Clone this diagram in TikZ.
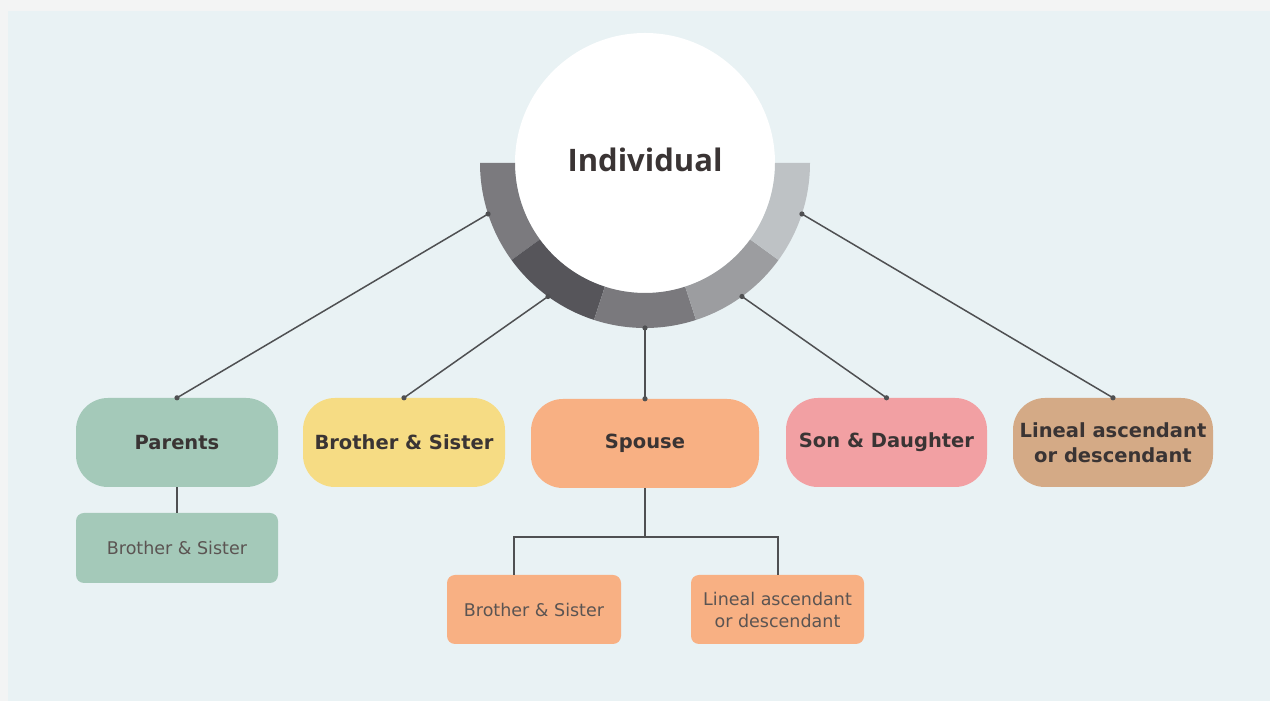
\documentclass[tikz,border=0pt]{standalone}
\usepackage{fontspec}
\setmainfont{DejaVu Sans}
\newfontfamily\indfont{Open Sans}
\usetikzlibrary{calc}
\definecolor{bgout}{HTML}{F3F4F4}
\definecolor{panel}{HTML}{E9F2F4}
\definecolor{sage}{HTML}{A4C9B9}
\definecolor{sun}{HTML}{F6DC84}
\definecolor{peach}{HTML}{F8B083}
\definecolor{rose}{HTML}{F2A0A3}
\definecolor{tan}{HTML}{D4AA86}
\definecolor{segA}{HTML}{7B7A7E}
\definecolor{segB}{HTML}{56555A}
\definecolor{segC}{HTML}{7A797D}
\definecolor{segD}{HTML}{9C9DA0}
\definecolor{segE}{HTML}{BEC2C5}
\definecolor{txtmain}{HTML}{3A3434}
\definecolor{txtsub}{HTML}{5B5452}
\definecolor{wire}{HTML}{4F5052}
\tikzset{
  mainbox/.style={rounded corners=32pt, minimum height=89pt, inner sep=0pt, align=center,
    text=txtmain, font=\fontsize{19.5}{25}\selectfont\bfseries},
  subbox/.style={rounded corners=8pt, inner sep=0pt, align=center,
    text=txtsub, font=\fontsize{17.5}{22}\selectfont},
  wireline/.style={draw=wire, line width=1.5pt},
  enddot/.style={fill=wire},
}
\begin{document}
\begin{tikzpicture}[x=1pt,y=1pt]
\useasboundingbox (0,0) rectangle (1270,701);
\fill[bgout] (0,0) rectangle (1270,701);
\fill[panel] (8,0) rectangle (1270,690);

% central circle
\node[circle, fill=white, minimum size=260pt, inner sep=0pt] (ind) at (645,538) {};
\node[font=\indfont\fontsize{31}{36}\selectfont\bfseries, text=txtmain] (indlabel) at (645,541) {Individual};

% ring segments
\foreach \a/\b/\c in {180/216/segA, 216/252/segB, 252/288/segC, 288/324/segD, 324/360/segE}{
  \fill[\c] ($(ind.center)+(\a:165)$) arc[start angle=\a, end angle=\b, radius=165]
     -- ($(ind.center)+(\b:130)$) arc[start angle=\b, end angle=\a, radius=130] -- cycle;
}
\coordinate (r1) at ($(ind.center)+(198:165)$);
\coordinate (r2) at ($(ind.center)+(234:165)$);
\coordinate (r3) at ($(ind.center)+(270:165)$);
\coordinate (r4) at ($(ind.center)+(306:165)$);
\coordinate (r5) at ($(ind.center)+(342:165)$);

% main boxes
\node[mainbox, fill=sage, minimum width=202pt] (par) at (177,258.5) {Parents};
\node[mainbox, fill=sun, minimum width=202pt] (bro) at (404,258.5) {Brother \& Sister};
\node[mainbox, fill=peach, minimum width=228pt] (spo) at (645,257.5) {Spouse};
\node[mainbox, fill=rose, minimum width=201pt] (son) at (886.5,258.5) {Son \& Daughter};
\node[mainbox, fill=tan, minimum width=200pt] (lin) at (1113,258.5) {Lineal ascendant\\or descendant};

% sub boxes
\node[subbox, fill=sage, minimum width=202pt, minimum height=70pt] (parsub) at (177,153) {Brother \& Sister};
\node[subbox, fill=peach, minimum width=174pt, minimum height=69pt] (sposubA) at (534,91.5) {Brother \& Sister};
\node[subbox, fill=peach, minimum width=173pt, minimum height=69pt] (sposubB) at (777.5,91.5) {Lineal ascendant\\or descendant};

% connectors from ring
\foreach \r/\n in {r1/par, r2/bro, r3/spo, r4/son, r5/lin}{
  \draw[wireline] (\r) -- (\n.north);
  \fill[enddot] (\r) circle (2.6pt);
  \fill[enddot] (\n.north) circle (2.6pt);
}

% sub connectors
\draw[wireline] (par.south) -- (parsub.north);
\coordinate (jc) at (645,164);
\coordinate (jl) at (514,164);
\coordinate (jr) at (778,164);
\draw[wireline] (spo.south) -- (jc);
\draw[wireline] (jl |- sposubA.north) -- (jl) -- (jr) -- (jr |- sposubB.north);
\end{tikzpicture}
\end{document}
